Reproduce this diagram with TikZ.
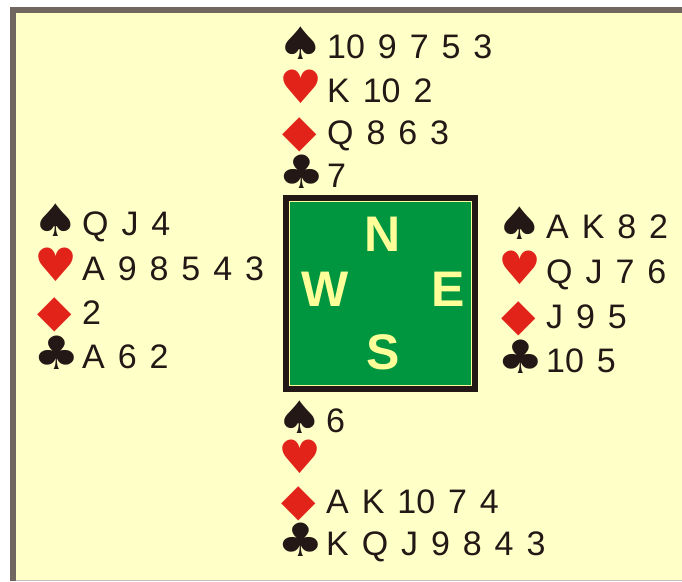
\documentclass[tikz,border=0pt]{standalone}
\usepackage{graphicx}
\usepackage{fontspec}
\setmainfont{Liberation Sans}
\newfontfamily\suitfont{DejaVu Sans}
\definecolor{paper}{HTML}{FFFFC8}
\definecolor{frame}{HTML}{726660}
\definecolor{ink}{HTML}{231815}
\definecolor{suitred}{HTML}{E2231A}
\definecolor{felt}{HTML}{009640}
\definecolor{compass}{HTML}{FFFF99}
\newcommand\cardfont{\fontsize{34}{40}\selectfont\spaceskip 0.38em\relax}
% #1 shift left, #2 lift, #3 glyph
\newcommand\suitsym[3]{\makebox[45pt][l]{\hspace*{#1}\raisebox{#2}{\suitfont\fontsize{40}{40}\selectfont #3}}}
\newcommand\spd{\suitsym{-5pt}{-1pt}{\scalebox{1.3}[1.12]{♠}}}
\newcommand\hrt{\suitsym{-3pt}{-1pt}{\textcolor{suitred}{\scalebox{1.2}[1.15]{♥}}}}
\newcommand\dia{\suitsym{0pt}{-2pt}{\textcolor{suitred}{\scalebox{1.12}{◆}}}}
\newcommand\clb{\suitsym{-4pt}{-1pt}{\scalebox{1.3}[1.15]{♣}}}
\tikzset{
  cards/.style={anchor=base west,inner sep=0pt,text=ink,font=\cardfont},
  seat/.style={inner sep=0pt,text=compass,font=\bfseries\fontsize{50}{50}\selectfont}
}
\begin{document}
\begin{tikzpicture}[x=1pt,y=-1pt]
\useasboundingbox (0,0) rectangle (682,581);
% table
\fill[paper] (10,7) rectangle (682,581);
\fill[frame] (10,7) rectangle (682,13);
\fill[frame] (10,7) rectangle (16,581);
\draw[frame!40,line width=1pt] (16,580.5) -- (682,580.5);
% board
\fill[ink] (283,195) rectangle (478,392);
\fill[compass] (289,201) rectangle (472,386);
\fill[felt] (290,202) rectangle (471,385);
\node[seat] (N) at (383,234) {N};
\node[seat] (W) at (325,289) {W};
\node[seat] (E) at (448,289) {E};
\node[seat] (S) at (383,352) {S};
% north
\node[cards] (n1) at (282,58) {\spd 10 9 7 5 3};
\node[cards] (n2) at (282,102) {\hrt K 10 2};
\node[cards] (n3) at (282,144) {\dia Q 8 6 3};
\node[cards] (n4) at (282,187) {\clb 7};
% west
\node[cards] (w1) at (37,235) {\spd Q J 4};
\node[cards] (w2) at (37,280) {\hrt A 9 8 5 4 3};
\node[cards] (w3) at (37,324) {\dia 2};
\node[cards] (w4) at (37,368) {\clb A 6 2};
% east
\node[cards] (e1) at (501,238) {\spd A K 8 2};
\node[cards] (e2) at (501,283) {\hrt Q J 7 6};
\node[cards] (e3) at (501,328) {\dia J 9 5};
\node[cards] (e4) at (501,372) {\clb 10 5};
% south
\node[cards] (s1) at (281,432) {\spd 6};
\node[cards] (s2) at (281,472) {\hrt};
\node[cards] (s3) at (281,513) {\dia A K 10 7 4};
\node[cards] (s4) at (281,555) {\clb K Q J 9 8 4 3};
\end{tikzpicture}
\end{document}
